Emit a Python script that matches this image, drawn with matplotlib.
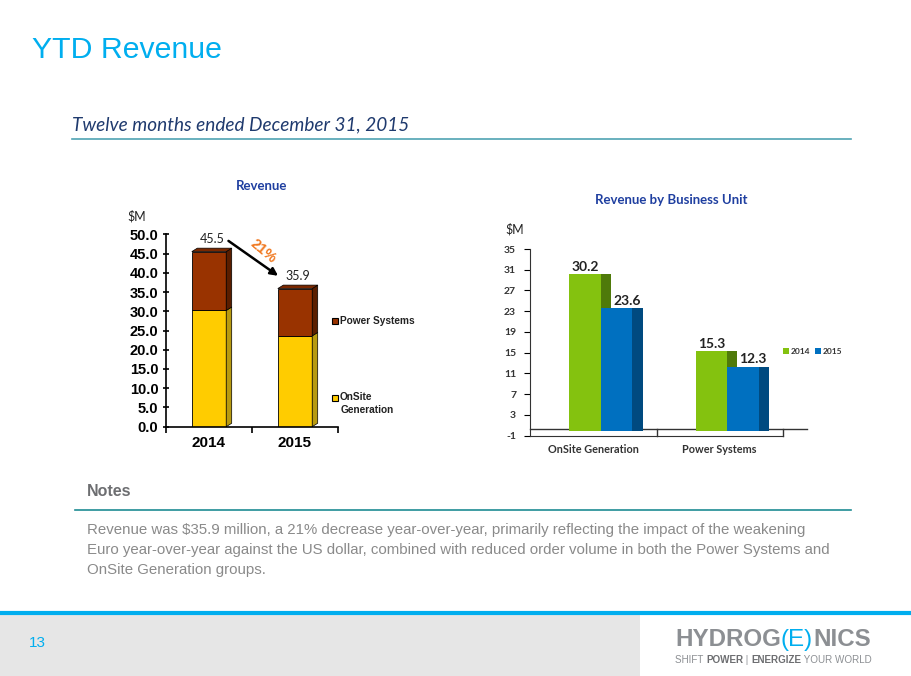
import numpy as np
import matplotlib.pyplot as plt
from matplotlib.patches import Rectangle

# data
years = ['2014', '2015']
onsite = [30.2, 23.6]
power = [15.3, 12.3]
units = ['OnSite Generation', 'Power Systems']
rev_2014 = [30.2, 15.3]
rev_2015 = [23.6, 12.3]
pct_change = '21%'
left_ticks = [0, 5, 10, 15, 20, 25, 30, 35, 40, 45, 50]
right_ticks = [-1, 3, 7, 11, 15, 19, 23, 27, 31, 35]

W, H = 911, 676
fig = plt.figure(figsize=(W / 100, H / 100), dpi=100)

def pos(x0, y0, x1, y1):
    # pixel box -> figure fraction
    return [x0 / W, 1 - y1 / H, (x1 - x0) / W, (y1 - y0) / H]

# background / slide layer in pixel coords
bg = fig.add_axes([0, 0, 1, 1])
bg.set_xlim(0, W)
bg.set_ylim(H, 0)
bg.axis('off')

cyan = '#00AEEF'
bg.text(32, 50, 'YTD Revenue', fontsize=21.8, color=cyan, family='Liberation Sans', va='center')
bg.text(72, 125, 'Twelve months ended December 31, 2015', fontsize=13.7, color='#1F3A6E',
        family='Lato', style='italic', va='center')
bg.plot([72, 851], [139, 139], color='#4FA3B3', lw=1.2)

bg.text(87, 492, 'Notes', fontsize=11.5, color='#6D6E71', family='Liberation Sans',
        weight='bold', va='center')
bg.plot([75, 851], [510, 510], color='#1E8C93', lw=1.2)
notes = ['Revenue was $35.9 million, a 21% decrease year-over-year, primarily reflecting the impact of the weakening',
         'Euro year-over-year against the US dollar, combined with reduced order volume in both the Power Systems and',
         'OnSite Generation groups.']
for i, line in enumerate(notes):
    bg.text(87, 530 + 20 * i, line, fontsize=10.85, color='#8A8A8A', family='Liberation Sans', va='center')

# footer
bg.add_patch(Rectangle((0, 615), 640, 61, color='#E6E6E6', lw=0))
bg.plot([0, W], [613, 613], color=cyan, lw=3, solid_capstyle='butt')
bg.text(29, 643, '13', fontsize=11, color=cyan, family='Liberation Sans', va='center')

fig.canvas.draw()
rend = fig.canvas.get_renderer()
inv = bg.transData.inverted()

def pieces(x, y, parts, **kw):
    for s, col, wt in parts:
        t = bg.text(x, y, s, color=col, weight=wt, va='center', **kw)
        bb = t.get_window_extent(rend)
        x = inv.transform((bb.x1, bb.y0))[0]

grey = '#8C8F93'
pieces(675, 640, [('HYDROG', grey, 'bold'), ('(E)', cyan, 'normal'), ('NICS', grey, 'bold')],
       fontsize=17.4, family='Liberation Sans')
pieces(675, 660, [('SHIFT ', grey, 'normal'), ('POWER', '#6D6E71', 'bold'), (' | ', grey, 'normal'),
                  ('ENERGIZE', '#6D6E71', 'bold'), (' YOUR WORLD', grey, 'normal')],
       fontsize=7.1, family='Liberation Sans')

# ---------------- left chart: stacked revenue ----------------
ax1 = fig.add_axes(pos(166, 234.3, 338, 426.7))
ax1.set_facecolor('none')
ax1.set_xlim(-0.5, 1.5)
ax1.set_ylim(0, 50)
x = np.arange(len(years))
bw, dx, dy = 0.4, 0.064, 0.9
yellow, yellow_side = '#FFCC00', '#B89A10'
brown, brown_side, brown_top = '#993300', '#5A1E00', '#7A2800'

ax1.bar(x, onsite, bw, color=yellow, edgecolor='black', lw=0.6, zorder=2)
ax1.bar(x, power, bw, bottom=onsite, color=brown, edgecolor='black', lw=0.6, zorder=2)
totals = [a + b for a, b in zip(onsite, power)]
for xi, a, t in zip(x, onsite, totals):
    r = xi + bw / 2
    l = xi - bw / 2
    ax1.fill([r, r + dx, r + dx, r], [0, dy, a + dy, a], color=yellow_side, ec='black', lw=0.5, zorder=2)
    ax1.fill([r, r + dx, r + dx, r], [a, a + dy, t + dy, t], color=brown_side, ec='black', lw=0.5, zorder=2)
    ax1.fill([l, l + dx, r + dx, r], [t, t + dy, t + dy, t], color=brown_top, ec='black', lw=0.5,
             zorder=2, clip_on=False)
    ax1.annotate(f'{t:.1f}', (xi, t + dy), xytext=(2, 2), textcoords='offset points',
                 ha='center', va='bottom', fontsize=9, family='Lato', color='#222222')

ax1.annotate('', xy=(x[1] - 0.17, totals[1] + 2.9), xytext=(x[0] + 0.2, totals[0] + 3.2),
             arrowprops=dict(arrowstyle='-|>', color='black', lw=1.8, mutation_scale=11))
mid_x = (x[0] + x[1]) / 2 + 0.13
mid_y = (totals[0] + totals[1]) / 2 + 5
ax1.text(mid_x, mid_y, pct_change, color='#F07820', fontsize=10.5, weight='bold', family='Liberation Sans',
         rotation=-40, ha='center', va='center')

ax1.set_yticks(left_ticks)
ax1.set_yticklabels([f'{v:.1f}' for v in left_ticks], fontsize=10.5, weight='bold', family='Liberation Sans')
ax1.set_xticks(x)
ax1.set_xticklabels(years, fontsize=11, weight='bold', family='Liberation Sans')
ax1.tick_params(axis='x', length=0, pad=7)
ax1.set_xticks([-0.5, 0.5, 1.5], minor=True)
ax1.tick_params(axis='x', which='minor', length=4, width=1.2, direction='out')
ax1.tick_params(axis='y', length=5, width=1.2, direction='inout', pad=3)
for s in ['top', 'right']:
    ax1.spines[s].set_visible(False)
for s in ['left', 'bottom']:
    ax1.spines[s].set_linewidth(1.2)

bg.text(262, 186, 'Revenue', fontsize=9.5, weight='bold', color='#1F3FA0', family='Lato',
        ha='center', va='center')
bg.text(127, 216, '$M', fontsize=9, color='#222222', family='Lato', va='center')
# legend
for yy, col, lab in [(320.5, brown, ['Power Systems']), (397.5, yellow, ['OnSite', 'Generation'])]:
    bg.add_patch(Rectangle((332, yy - 3), 6, 6, facecolor=col, edgecolor='black', lw=0.8))
    for k, s in enumerate(lab):
        bg.text(340 if k == 0 else 341, yy + 12.5 * k, s, fontsize=7.3, weight='bold',
                family='Liberation Sans', va='center', color='#222222')

# ---------------- right chart: by business unit ----------------
ax2 = fig.add_axes(pos(530, 249, 783, 435.7))
ax2.set_facecolor('none')
ax2.set_xlim(-0.5, 1.5)
ax2.set_ylim(-1, 35)
w2, d2 = 0.25, 0.08
green, green_side = '#84C20F', '#4F7A0A'
blue, blue_side = '#0070C0', '#004A80'
xc = np.arange(len(units))
g_left = xc - 0.19
b_left = xc + 0.06
ax2.bar(g_left + w2 + d2 / 2, rev_2014, d2, color=green_side, zorder=2)
ax2.bar(g_left + w2 / 2, rev_2014, w2, color=green, zorder=3)
ax2.bar(b_left + w2 + d2 / 2, rev_2015, d2, color=blue_side, zorder=3)
ax2.bar(b_left + w2 / 2, rev_2015, w2, color=blue, zorder=4)
for xs, vals, off in [(g_left, rev_2014, 0.0), (b_left, rev_2015, d2)]:
    for xi, v in zip(xs, vals):
        ax2.annotate(f'{v:.1f}', (xi + w2 / 2 + off, v), xytext=(0, 1), textcoords='offset points',
                     ha='center', va='bottom', fontsize=10, weight='bold', family='Lato',
                     color='#222222', zorder=5)

# floor
ax2.plot([-0.5, 1.5 + 0.19], [0.2, 0.2], color='#333333', lw=1, clip_on=False, zorder=1)
ax2.plot([1.5, 1.5], [-1, 0.2], color='#333333', lw=1, clip_on=False, zorder=1)
ax2.plot([0.5, 0.5], [-1, 0.2], color='#333333', lw=1, clip_on=False, zorder=1)

ax2.set_yticks(right_ticks)
ax2.set_yticklabels([str(v) for v in right_ticks], fontsize=7.5, weight='bold', family='Lato',
                    color='#333333')
ax2.set_xticks(xc)
ax2.set_xticklabels(units, fontsize=7.8, weight='bold', family='Lato', color='#333333')
ax2.tick_params(axis='x', length=0, pad=6)
ax2.tick_params(axis='y', length=4, width=0.8, direction='out', pad=6)
for s in ['top', 'right']:
    ax2.spines[s].set_visible(False)
ax2.spines['left'].set_color('#333333')
ax2.spines['bottom'].set_color('#333333')

bg.text(671, 200, 'Revenue by Business Unit', fontsize=9.5, weight='bold', color='#1F3FA0',
        family='Lato', ha='center', va='center')
bg.text(505, 229, '$M', fontsize=9, color='#222222', family='Lato', va='center')
for xx, col, lab in [(783, green, years[0]), (815, blue, years[1])]:
    bg.add_patch(Rectangle((xx, 348), 6, 6, color=col, lw=0))
    bg.text(xx + 8, 351.5, lab, fontsize=6, family='Lato', weight='bold', color='#333333', va='center')

fig.savefig('out.png', dpi=100)
